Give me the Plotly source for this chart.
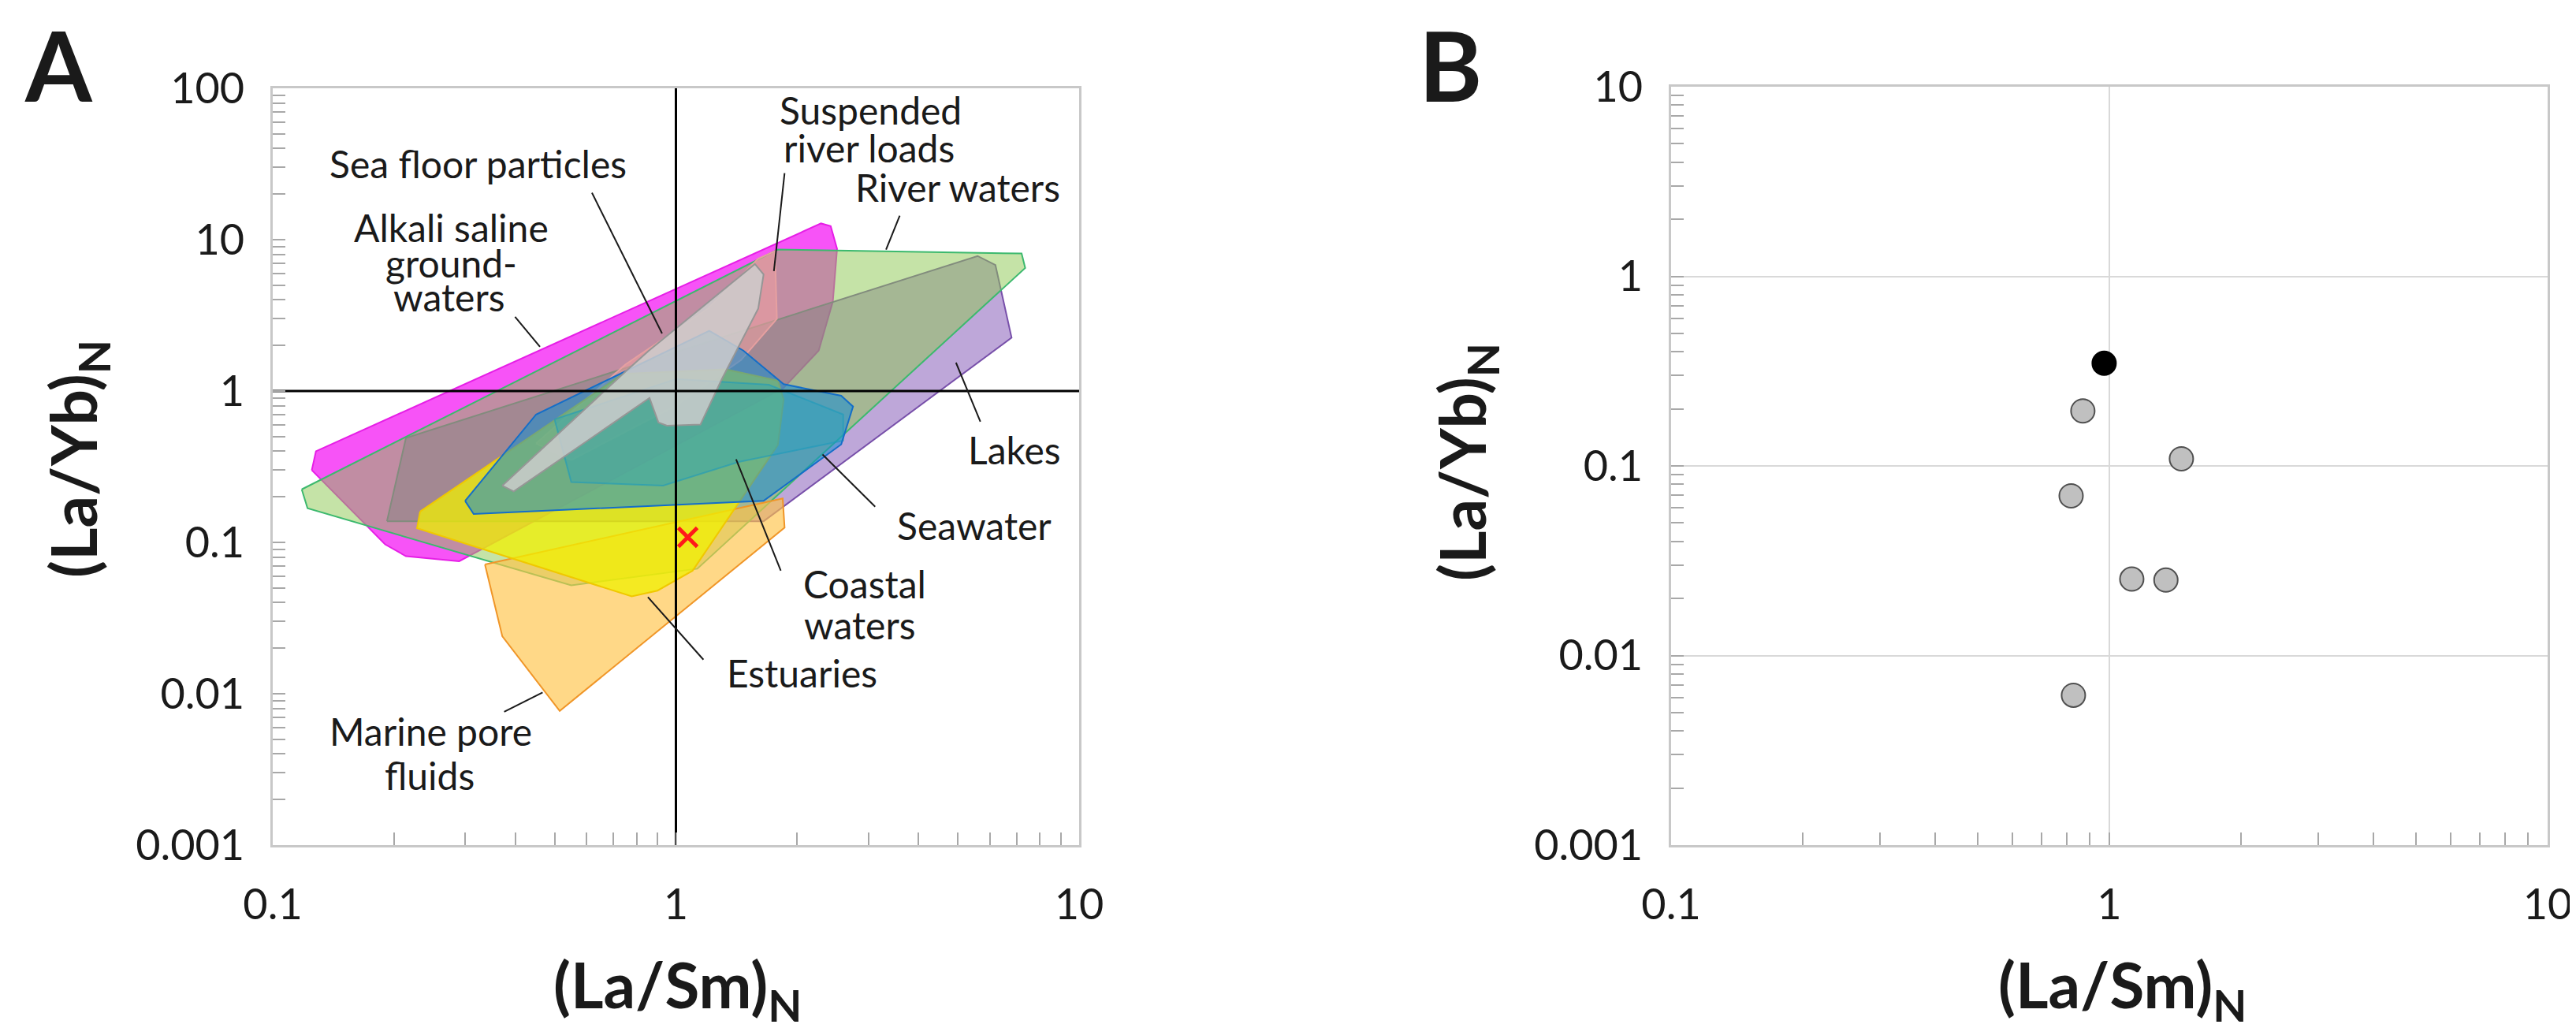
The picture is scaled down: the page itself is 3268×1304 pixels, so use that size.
import plotly.graph_objects as go

W, H = 3268, 1304

# ---------------- Panel A : reference fields  ((La/Sm)N , (La/Yb)N) ----------------
alkali_x = [0.125, 0.128, 2.29, 2.42, 2.51, 2.45, 2.26, 1.85, 0.29, 0.214, 0.19]
alkali_y = [0.30, 0.40, 12.8, 12.3, 8.7, 3.9, 1.85, 1.05, 0.075, 0.081, 0.097]

river_x = [0.118, 0.122, 0.55, 1.13, 7.35, 7.2, 1.79]
river_y = [0.224, 0.168, 0.052, 0.067, 6.5, 8.1, 8.6]

lakes_x = [0.192, 0.214, 5.6, 6.2, 6.8, 1.65]
lakes_y = [0.138, 0.49, 7.8, 6.8, 2.25, 0.138]

susp_x = [0.45, 0.75, 1.2, 1.6, 1.76, 1.78, 1.45, 1.0, 0.55]
susp_y = [0.45, 1.5, 3.5, 7.5, 8.4, 3.0, 1.6, 0.8, 0.35]

pore_x = [0.336, 0.371, 0.515, 1.86, 1.84]
pore_y = [0.0714, 0.024, 0.0077, 0.125, 0.195]

estu_x = [0.232, 0.228, 0.777, 0.9, 1.1, 1.79, 1.85, 1.79, 1.33, 0.74]
estu_y = [0.16, 0.124, 0.044, 0.048, 0.065, 0.44, 0.88, 1.17, 1.39, 1.3]

coast_x = [0.5, 1.0, 1.7, 2.6, 2.6, 1.43, 0.93, 0.55]
coast_y = [0.65, 1.2, 1.1, 0.7, 0.47, 0.34, 0.237, 0.25]

sea_x = [0.30, 0.315, 1.65, 2.57, 2.75, 2.57, 1.85, 1.47, 1.21, 0.45]
sea_y = [0.188, 0.154, 0.188, 0.444, 0.79, 0.93, 1.11, 1.85, 2.5, 0.70]

floor_x = [0.371, 0.396, 0.86, 0.905, 0.95, 1.15, 1.3, 1.6, 1.65, 1.57, 0.857, 0.751]
floor_y = [0.237, 0.217, 0.90, 0.62, 0.59, 0.60, 1.2, 3.5, 5.9, 6.9, 1.85, 1.35]

sample_x = [1.07]
sample_y = [0.108]

# leader lines: [label end, field end]
leaders = {
    "alkali":  ([0.399, 0.460], [3.09, 1.96]),
    "floor":   ([0.619, 0.924], [20.4, 2.4]),
    "susp":    ([1.86, 1.75], [27.5, 6.2]),
    "river":   ([3.59, 3.32], [14.4, 8.6]),
    "lakes":   ([5.69, 4.95], [0.627, 1.54]),
    "sea":     ([3.12, 2.31], [0.172, 0.381]),
    "coast":   ([1.82, 1.41], [0.065, 0.354]),
    "estu":    ([1.17, 0.852], [0.0168, 0.0435]),
    "pore":    ([0.375, 0.467], [0.0076, 0.0102]),
}

# ---------------- Panel B : samples ----------------
b_black_x = [0.973]
b_black_y = [0.348]
b_grey_x = [0.870, 1.46, 0.818, 1.125, 1.346, 0.828]
b_grey_y = [0.195, 0.109, 0.0695, 0.0253, 0.0250, 0.00617]

x_tickvals = [0.1, 1, 10]
x_ticktext = ["0.1", "1", "10"]
ya_tickvals = [0.001, 0.01, 0.1, 1, 10, 100]
ya_ticktext = ["0.001", "0.01", "0.1", "1", "10", "100"]
yb_tickvals = [0.001, 0.01, 0.1, 1, 10]
yb_ticktext = ["0.001", "0.01", "0.1", "1", "10"]

x_minor = [k * 10.0 ** e for e in (-1, 0) for k in range(2, 10)]
ya_minor = [k * 10.0 ** e for e in (-3, -2, -1, 0, 1) for k in range(2, 10)]
yb_minor = [k * 10.0 ** e for e in (-3, -2, -1, 0) for k in range(2, 10)]

FONT = "Lato"

fig = go.Figure()


def field(xs, ys, fill, line):
    fig.add_trace(go.Scatter(
        x=list(xs) + [xs[0]], y=list(ys) + [ys[0]], xaxis="x", yaxis="y",
        mode="lines", fill="toself", fillcolor=fill,
        line=dict(color=line, width=2), hoverinfo="skip"))


field(alkali_x, alkali_y, "rgba(245,40,245,0.80)", "rgb(230,30,230)")
field(lakes_x, lakes_y, "rgba(110,60,170,0.45)", "rgb(120,80,170)")
field(river_x, river_y, "rgba(140,200,80,0.50)", "rgb(60,185,110)")
field(susp_x, susp_y, "rgba(240,160,160,0.55)", "rgb(230,160,160)")
field(pore_x, pore_y, "rgba(255,195,70,0.65)", "rgb(240,150,40)")
field(estu_x, estu_y, "rgba(240,240,0,0.75)", "rgb(240,200,0)")
field(coast_x, coast_y, "rgba(50,190,170,0.35)", "rgba(40,170,160,0.6)")
field(sea_x, sea_y, "rgba(20,140,210,0.55)", "rgb(20,110,200)")
field(floor_x, floor_y, "rgba(205,205,205,0.85)", "rgb(150,150,150)")

# reference lines at 1
fig.add_trace(go.Scatter(x=[1, 1], y=[0.001, 100], xaxis="x", yaxis="y", mode="lines",
                         line=dict(color="black", width=3), hoverinfo="skip"))
fig.add_trace(go.Scatter(x=[0.1, 10], y=[1, 1], xaxis="x", yaxis="y", mode="lines",
                         line=dict(color="black", width=3), hoverinfo="skip"))

for k, (lx, ly) in leaders.items():
    fig.add_trace(go.Scatter(x=lx, y=ly, xaxis="x", yaxis="y", mode="lines",
                             line=dict(color="#1a1a1a", width=2), hoverinfo="skip"))

fig.add_trace(go.Scatter(x=sample_x, y=sample_y, xaxis="x", yaxis="y", mode="markers",
                         marker=dict(symbol="x-thin", size=24,
                                     line=dict(color="#ff1a1a", width=5))))

# panel B points
fig.add_trace(go.Scatter(x=b_grey_x, y=b_grey_y, xaxis="x2", yaxis="y2", mode="markers",
                         marker=dict(symbol="circle", size=30, color="#c0c0c0",
                                     line=dict(color="#505050", width=2))))
fig.add_trace(go.Scatter(x=b_black_x, y=b_black_y, xaxis="x2", yaxis="y2", mode="markers",
                         marker=dict(symbol="circle", size=30, color="black",
                                     line=dict(color="black", width=2))))

tickfont = dict(family=FONT, size=54, color="#1a1a1a")
common = dict(type="log", showline=True, linecolor="#c8c8c8", linewidth=3, mirror=True,
              ticks="inside", ticklen=16, tickwidth=2, tickcolor="#a8a8a8",
              zeroline=False, tickfont=tickfont, automargin=False)


def xax(domain, anchor, grid):
    return dict(common, domain=domain, anchor=anchor, range=[-1, 1],
                tickvals=x_tickvals, ticktext=x_ticktext, ticklabelstandoff=26,
                showgrid=grid, gridcolor="#d9d9d9", gridwidth=2,
                minor=dict(tickvals=x_minor, ticks="inside", ticklen=16, tickwidth=2,
                           tickcolor="#a8a8a8", showgrid=False))


def yax(domain, anchor, rng, tv, tt, mn, grid):
    return dict(common, domain=domain, anchor=anchor, range=rng,
                tickvals=tv, ticktext=tt, ticklabelstandoff=22,
                showgrid=grid, gridcolor="#d9d9d9", gridwidth=2,
                minor=dict(tickvals=mn, ticks="inside", ticklen=16, tickwidth=2,
                           tickcolor="#a8a8a8", showgrid=False))


fig.update_layout(
    width=W, height=H, margin=dict(l=0, r=0, t=0, b=0),
    paper_bgcolor="white", plot_bgcolor="white", showlegend=False,
    xaxis=xax([338 / W, 1361 / W], "y", False),
    yaxis=yax([1 - 1064 / H, 1 - 104 / H], "x", [-3, 2], ya_tickvals, ya_ticktext, ya_minor, False),
    xaxis2=xax([2112 / W, 3224 / W], "y2", True),
    yaxis2=yax([1 - 1064 / H, 1 - 102 / H], "x2", [-3, 1], yb_tickvals, yb_ticktext, yb_minor, True),
)


def P(px, py):
    return px / W, 1 - py / H


anns = []


def label(text, px, py, size=48, bold=False, angle=0):
    x, y = P(px, py)
    anns.append(dict(text=("<b>%s</b>" % text) if bold else text, x=x, y=y,
                     xref="paper", yref="paper", xanchor="center", yanchor="middle",
                     showarrow=False, textangle=angle,
                     font=dict(family=FONT, size=size, color="#1a1a1a")))


# field labels
label("Sea floor particles", 598, 199)
label("Suspended", 1096, 132)
label("river loads", 1094, 180)
label("River waters", 1207, 230)
label("Alkali saline", 564, 280)
label("ground-", 564, 325)
label("waters", 562, 369)
label("Lakes", 1279, 562)
label("Seawater", 1228, 658)
label("Coastal", 1089, 732)
label("waters", 1083, 784)
label("Estuaries", 1009, 845)
label("Marine pore", 538, 919)
label("fluids", 537, 975)

# axis titles
label("(La/Sm)<sub>N</sub>", 852, 1246, size=80, bold=True)
label("(La/Yb)<sub>N</sub>", 90, 574, size=80, bold=True, angle=-90)
label("(La/Sm)<sub>N</sub>", 2684, 1246, size=80, bold=True)
label("(La/Yb)<sub>N</sub>", 1852, 578, size=80, bold=True, angle=-90)

# panel letters
label("A", 66, 74, size=122, bold=True)
label("B", 1832, 74, size=122, bold=True)

fig.update_layout(annotations=anns)
fig.write_html("out.html")
